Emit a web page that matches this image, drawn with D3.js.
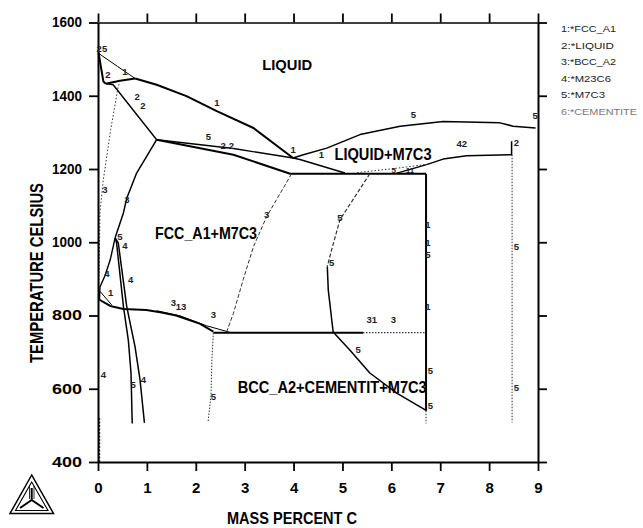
<!DOCTYPE html>
<html><head><meta charset="utf-8">
<script src="https://cdn.jsdelivr.net/npm/d3@7"></script>
<style>
html,body{margin:0;padding:0;background:#fff;}
svg{display:block;font-family:"Liberation Sans",Arial,sans-serif;}
</style></head>
<body>
<svg id="chart" width="643" height="528"></svg>
<script>
// ---------------- data ----------------
const xTicks = [0,1,2,3,4,5,6,7,8,9];
const yTicks = [400,600,800,1000,1200,1400,1600];
const xTitle = "MASS PERCENT C";
const yTitle = "TEMPERATURE CELSIUS";
const legendItems = ["1:*FCC_A1","2:*LIQUID","3:*BCC_A2","4:*M23C6","5:*M7C3","6:*CEMENTITE"];

// phase boundaries [mass % C, temperature °C]
const liqFCC        = [[0.76,1447],[1.20,1430],[1.81,1399],[2.43,1358],[3.18,1312],[3.99,1230]];
const liqTop        = [[0.02,1515],[0.40,1480],[0.76,1447]];
const deltaLeft     = [[0.01,1518],[0.11,1439],[0.16,1433]];
const peritectic    = [[0.16,1433],[0.45,1441],[0.76,1447]];
const liqToP        = [[0.16,1433],[0.31,1430],[1.20,1280]];
const upperP        = [[1.20,1280],[2.77,1256],[3.99,1230],[4.13,1226],[5.05,1189]];
const lowerP        = [[1.20,1280],[2.77,1239],[3.93,1187],[6.71,1187]];
const liqM7C3       = [[3.99,1230],[4.20,1239],[4.68,1257],[5.36,1294],[6.18,1317],[7.06,1330],[8.22,1326],[8.49,1317],[8.95,1312]];
const cementiteLiq  = [[6.10,1188],[6.72,1212],[7.06,1227],[7.54,1236],[8.46,1239],[8.46,1276]];
const m7c3Dotted    = [[5.30,1190],[6.10,1202],[6.80,1214]];
const c67Solid      = [[6.71,1187],[6.71,540]];
const c67Dotted     = [[6.71,540],[6.71,505]];
const c846Dotted    = [[8.47,1239],[8.47,508]];
const eutectoid     = [[2.36,753],[5.42,753]];
const eutectoidDot  = [[5.42,753],[6.71,753]];
const a1Lower       = [[0.03,843],[0.25,826],[0.52,818],[0.99,815],[1.30,808],[1.60,800],[2.09,777],[2.36,756]];
const a1Upper       = [[1.20,813],[1.68,799],[2.22,772],[2.70,754]];
const bccDotV       = [[2.36,753],[2.33,680],[2.31,580],[2.25,508]];
const fccBccDashed  = [[3.96,1187],[3.45,1070],[3.18,988],[2.97,898],[2.77,806],[2.63,755]];
const m7c3Upper     = [[5.56,1187],[5.19,1111],[4.95,1062],[4.78,980],[4.69,934]];
const m7c3Lower     = [[4.69,934],[4.71,870],[4.81,755],[5.15,706],[5.56,643],[6.11,588],[6.72,540]];
const fccBoundary   = [[1.20,1280],[0.79,1189],[0.59,1121],[0.52,1080],[0.35,1012]];
const fccM23        = [[0.35,1012],[0.25,952],[0.14,908],[0.04,878],[0.03,843]];
const m7c3Steep     = [[0.35,1012],[0.38,998],[0.52,825],[0.62,733],[0.675,643],[0.70,505]];
const m23c6Steep    = [[0.35,1012],[0.415,998],[0.587,825],[0.757,715],[0.86,624],[0.95,507]];
const smallLine     = [[0.04,866],[0.28,829]];
const leftDotted    = [[0.45,1441],[0.41,1422],[0.26,1308],[0.11,1171],[0.04,1081],[0.02,897],[0.02,845]];
const leftAxisDot   = [[0.03,520],[0.03,400]];

// region names [text, C, T]
const regionLabels = [
  ["LIQUID",3.87,1485],
  ["LIQUID+M7C3",5.83,1239],
  ["FCC_A1+M7C3",2.21,1026],
  ["BCC_A2+CEMENTIT+M7C3",4.79,604]
];
// line numbers [text, C, T]
const lineLabels = [
  ["25",0.08,1529],["2",0.2,1458],["1",0.55,1466],["2",0.8,1398],["2",0.92,1373],
  ["1",2.43,1381],["5",2.26,1289],["2",2.56,1264],["2",2.73,1264],["1",3.99,1253],
  ["1",4.57,1239],["5",6.45,1348],["5",8.94,1346],["42",7.44,1268],["2",8.56,1273],
  ["3",0.59,1116],["3",0.14,1143],["5",0.45,1016],["4",0.55,990],["4",0.18,914],
  ["1",0.26,862],["4",0.67,899],["3",1.54,834],["13",1.70,824],["3",2.36,802],
  ["4",0.11,638],["5",0.72,610],["4",0.93,626],["5",2.36,578],["5",4.95,1066],
  ["5",4.78,943],["3",3.45,1075],["31",5.6,788],["3",6.04,788],["5",5.32,706],
  ["1",6.75,1048],["1",6.75,998],["5",6.75,966],["1",6.75,824],["5",6.80,650],
  ["5",6.80,555],["5",8.56,988],["5",8.56,602],["5",6.05,1196],["11",6.38,1198]
];

// ---------------- chart ----------------
const svg = d3.select("#chart");
svg.append("rect").attr("width",643).attr("height",528).attr("fill","#fff");

const x = d3.scaleLinear().domain([0,9]).range([98,538]);
const y = d3.scaleLinear().domain([400,1600]).range([462,22.5]);
const line = d3.line().x(d=>x(d[0])).y(d=>y(d[1]));

const plotLines = [
  [liqFCC,2,null],[liqTop,1,null],[deltaLeft,2,null],[peritectic,2,null],[liqToP,1.4,null],
  [upperP,1.4,null],[lowerP,2,null],[liqM7C3,1.5,null],[cementiteLiq,1.5,null],
  [m7c3Dotted,1,"1.5,2"],[c67Solid,2,null],[c67Dotted,1,"1.5,1.5"],[c846Dotted,1,"1.5,1.5"],
  [eutectoid,2,null],[eutectoidDot,1.2,"1.5,1.5"],[a1Lower,2,null],[a1Upper,1,null],
  [bccDotV,1,"1.5,1.5"],[fccBccDashed,1,"4,2"],[m7c3Upper,1.2,"4,2"],[m7c3Lower,1.5,null],
  [fccBoundary,1.5,null],[fccM23,1.4,null],[m7c3Steep,1.5,null],[m23c6Steep,1.5,null],
  [smallLine,1,null],[leftDotted,1,"1.5,2"],[leftAxisDot,1.5,"2,1.5"]
];
const gLines = svg.append("g");
plotLines.forEach(([data,w,dash])=>{
  gLines.append("path").attr("d",line(data)).attr("fill","none")
    .attr("stroke", dash ? "#333" : "#000").attr("stroke-width",w)
    .attr("stroke-dasharray",dash).attr("stroke-linejoin","round");
});

// axes
function styleAxis(g){
  g.select(".domain").attr("stroke","#000").attr("stroke-width",2);
  g.selectAll(".tick line").attr("stroke","#000").attr("stroke-width",1.8);
}

const gb = svg.append("g").attr("transform",`translate(0,${y(400)})`)
  .call(d3.axisBottom(x).tickValues(xTicks).tickSize(9).tickSizeOuter(0).tickPadding(11).tickFormat(d3.format("d")));
styleAxis(gb);
gb.selectAll("text").attr("font-size",15).attr("font-weight","bold").attr("fill","#000")
  .attr("font-family","'Liberation Sans',Arial,sans-serif");

const gl = svg.append("g").attr("transform",`translate(${x(0)},0)`)
  .call(d3.axisLeft(y).tickValues(yTicks).tickSize(9).tickSizeOuter(0).tickPadding(7).tickFormat(d3.format("d")));
styleAxis(gl);
gl.selectAll("text").attr("font-size",14).attr("font-weight","bold").attr("fill","#000")
  .attr("font-family","'Liberation Sans',Arial,sans-serif").attr("textLength",30).attr("lengthAdjust","spacingAndGlyphs");

const gt = svg.append("g").attr("transform",`translate(0,${y(1600)})`)
  .call(d3.axisTop(x).tickValues(xTicks).tickSize(9).tickSizeOuter(0).tickFormat(""));
styleAxis(gt);
gt.select(".domain").attr("stroke-width",1.6);

const gr = svg.append("g").attr("transform",`translate(${x(9)},0)`)
  .call(d3.axisRight(y).tickValues(yTicks).tickSize(9).tickSizeOuter(0).tickFormat(""));
styleAxis(gr);

// axis titles
svg.append("text").text(xTitle).attr("x",292).attr("y",524).attr("text-anchor","middle")
  .attr("font-size",17).attr("font-weight","bold").attr("textLength",130).attr("lengthAdjust","spacingAndGlyphs");
svg.append("text").text(yTitle).attr("transform","translate(43,273) rotate(-90)").attr("text-anchor","middle")
  .attr("font-size",18).attr("font-weight","bold").attr("textLength",180).attr("lengthAdjust","spacingAndGlyphs");

// region labels
const regionWidths = [50,97,102,189];
const regionSizes = [14,16,17,16];
regionLabels.forEach((d,i)=>{
  svg.append("text").text(d[0]).attr("x",x(d[1])).attr("y",y(d[2])).attr("dy","0.36em")
    .attr("text-anchor","middle").attr("font-size",regionSizes[i]).attr("font-weight","bold")
    .attr("textLength",regionWidths[i]).attr("lengthAdjust","spacingAndGlyphs");
});

// line number labels
svg.append("g").selectAll("text").data(lineLabels).join("text")
  .text(d=>d[0]).attr("x",d=>x(d[1])).attr("y",d=>y(d[2])).attr("dy","0.35em")
  .attr("text-anchor","middle").attr("font-size",(d,i)=>i>=lineLabels.length-2?8:9.5)
  .attr("font-weight","bold").attr("fill","#222");

// legend
svg.append("g").selectAll("text").data(legendItems).join("text")
  .text(d=>d).attr("x",561).attr("y",(d,i)=>29+i*16.5).attr("dy","0.35em")
  .attr("font-size",9.5).attr("fill",(d,i)=>i===5?"#777":"#222")
  .attr("textLength",(d,i)=>[55,53,55,50,44,76][i]).attr("lengthAdjust","spacingAndGlyphs");

// Thermo-Calc logo
const logo = svg.append("g").attr("fill","none").attr("stroke","#000").attr("stroke-width",1.5);
logo.append("path").attr("d","M31.7,475 L10,513.5 L53.5,513.5 Z");
logo.append("path").attr("d","M31.7,482 L15.5,510.5 L48,510.5 Z").attr("stroke-width",1.1);
logo.append("path").attr("d","M31.7,488 L31.7,500 M31.7,500 L20,508 M31.7,500 L43.5,508").attr("stroke-width",2);
logo.append("path").attr("d","M29.5,486 L29.5,499 M34,486 L34,499").attr("stroke-width",0.8);
</script>
</body></html>
